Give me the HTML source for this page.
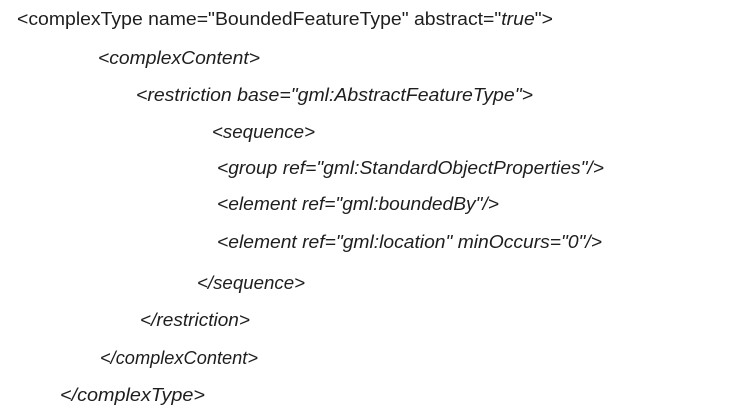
<!DOCTYPE html>
<html><head><meta charset="utf-8"><style>
html,body{margin:0;padding:0;background:#fff;width:733px;height:413px;overflow:hidden}
svg text{font-family:"Liberation Sans",Arial,sans-serif;font-size:18px;fill:#1e1e1e}
.i{font-style:italic}
</style></head><body>
<svg width="733" height="413" xmlns="http://www.w3.org/2000/svg">
<text x="17" y="25" textLength="536" lengthAdjust="spacingAndGlyphs">&lt;complexType name="BoundedFeatureType" abstract="<tspan class="i">true</tspan>"&gt;</text>
<text class="i" x="98" y="64" textLength="162" lengthAdjust="spacingAndGlyphs">&lt;complexContent&gt;</text>
<text class="i" x="136" y="101" textLength="397" lengthAdjust="spacingAndGlyphs">&lt;restriction base="gml:AbstractFeatureType"&gt;</text>
<text class="i" x="212" y="138" textLength="103" lengthAdjust="spacingAndGlyphs">&lt;sequence&gt;</text>
<text class="i" x="217" y="174" textLength="387" lengthAdjust="spacingAndGlyphs">&lt;group ref="gml:StandardObjectProperties"/&gt;</text>
<text class="i" x="217" y="210" textLength="282" lengthAdjust="spacingAndGlyphs">&lt;element ref="gml:boundedBy"/&gt;</text>
<text class="i" x="217" y="248" textLength="385" lengthAdjust="spacingAndGlyphs">&lt;element ref="gml:location" minOccurs="0"/&gt;</text>
<text class="i" x="197" y="289" textLength="108" lengthAdjust="spacingAndGlyphs">&lt;/sequence&gt;</text>
<text class="i" x="140" y="326" textLength="110" lengthAdjust="spacingAndGlyphs">&lt;/restriction&gt;</text>
<text class="i" x="100" y="364" textLength="158" lengthAdjust="spacingAndGlyphs">&lt;/complexContent&gt;</text>
<text class="i" x="60" y="401" textLength="145" lengthAdjust="spacingAndGlyphs">&lt;/complexType&gt;</text>
</svg>
</body></html>
